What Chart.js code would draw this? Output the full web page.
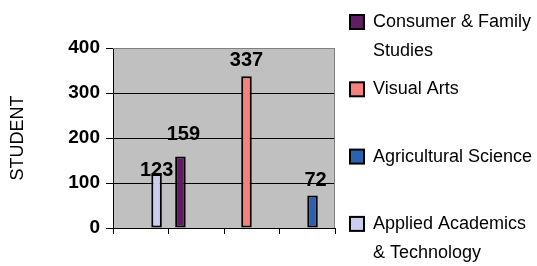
<!DOCTYPE html>
<html>
<head>
<meta charset="utf-8">
<script src="https://cdn.jsdelivr.net/npm/chart.js@4.4.1/dist/chart.umd.min.js"></script>
<style>
  html, body { margin: 0; padding: 0; background: #fff; }
  #wrap { width: 537px; height: 266px; position: relative; }
</style>
</head>
<body>
<div id="wrap"><canvas id="chart"></canvas></div>
<script>
// categories have no visible labels in the original
const categories = ['', '', '', ''];

const seriesNames = [
    ['Consumer & Family', 'Studies'],
    ['Visual Arts'],
    ['Agricultural Science'],
    ['Applied Academics', '& Technology']
];
const consumerValues = [null, 159, null, null];
const visualArtsValues = [null, null, 337, null];
const agricultureValues = [null, null, null, 72];
const appliedValues = [123, null, null, null];

const yTicks = [0, 100, 200, 300, 400];
const yTitle = 'STUDENT';

const seriesColors = ['#5e1e60', '#f58080', '#2a62b0', '#ccccee'];
// label offsets above bar top (labels were hand-placed in the source)
const labelLift = [22, 16, 15, 2];
const labelShift = [3, 0, 3, 0];

const FONT = "'Liberation Sans', Arial, sans-serif";

const bgPlugin = {
    id: 'plotBg',
    beforeDraw(chart) {
        const { ctx, chartArea: a } = chart;
        ctx.save();
        ctx.fillStyle = '#c0c0c0';
        ctx.fillRect(a.left, a.top, a.right - a.left, a.bottom - a.top);
        ctx.restore();
    },
    afterDraw(chart) {
        const { ctx, chartArea: a } = chart;
        ctx.save();
        ctx.strokeStyle = '#808080';
        ctx.lineWidth = 1;
        ctx.beginPath();
        ctx.moveTo(a.left, a.top + 0.5);
        ctx.lineTo(a.right - 0.5, a.top + 0.5);
        ctx.lineTo(a.right - 0.5, a.bottom);
        ctx.stroke();
        ctx.restore();
    }
};

const valueLabels = {
    id: 'valueLabels',
    afterDatasetsDraw(chart) {
        const ctx = chart.ctx;
        ctx.save();
        ctx.font = 'bold 20px ' + FONT;
        ctx.fillStyle = '#000';
        ctx.textAlign = 'center';
        ctx.textBaseline = 'middle';
        chart.data.datasets.forEach((ds, i) => {
            const meta = chart.getDatasetMeta(i);
            meta.data.forEach((bar, j) => {
                const v = ds.data[j];
                if (v === null || v === undefined) return;
                ctx.fillText(String(v), bar.x + labelShift[i], bar.y - labelLift[i]);
            });
        });
        ctx.restore();
    }
};

const sideLegend = {
    id: 'sideLegend',
    afterDraw(chart) {
        const ctx = chart.ctx;
        const x0 = 350, firstY = 22, step = 67.3, lineGap = 29;
        ctx.save();
        ctx.font = '18px ' + FONT;
        ctx.textBaseline = 'middle';
        ctx.textAlign = 'left';
        chart.data.datasets.forEach((ds, i) => {
            const y = firstY + i * step;
            ctx.fillStyle = ds.backgroundColor;
            ctx.fillRect(x0, y - 7, 14, 14);
            ctx.strokeStyle = '#000';
            ctx.lineWidth = 2;
            ctx.strokeRect(x0, y - 7, 14, 14);
            ctx.fillStyle = '#000';
            ds.lines.forEach((line, k) => {
                ctx.fillText(line, 373, y + k * lineGap);
            });
        });
        ctx.restore();
    }
};

const allValues = [consumerValues, visualArtsValues, agricultureValues, appliedValues];

new Chart(document.getElementById('chart'), {
    type: 'bar',
    data: {
        labels: categories,
        datasets: allValues.map((vals, i) => ({
            label: seriesNames[i].join(' '),
            lines: seriesNames[i],
            data: vals,
            backgroundColor: seriesColors[i],
            borderColor: '#000',
            borderWidth: 2,
            borderSkipped: false,
            barPercentage: 1.0,
            categoryPercentage: 0.76
        }))
    },
    options: {
        responsive: true,
        maintainAspectRatio: false,
        animation: false,
        layout: { padding: { top: 48, right: 202, left: 0, bottom: 0 } },
        plugins: {
            legend: { display: false },
            tooltip: { enabled: false }
        },
        scales: {
            x: {
                offset: true,
                afterFit(scale) { scale.height = 38; },
                grid: {
                    offset: true,
                    drawOnChartArea: false,
                    drawTicks: true,
                    tickLength: 6,
                    tickColor: '#000',
                    tickWidth: 1
                },
                border: { color: '#000', width: 1 },
                ticks: { display: true, font: { size: 1 } }
            },
            y: {
                min: 0,
                max: 400,
                afterFit(scale) { scale.width = 113; },
                afterBuildTicks(scale) { scale.ticks = yTicks.map(v => ({ value: v })); },
                title: {
                    display: true,
                    text: yTitle,
                    color: '#000',
                    font: { family: FONT, size: 18 },
                    padding: { top: 7, bottom: 0 }
                },
                grid: {
                    color: ctx => (ctx.tick && ctx.tick.value === 400 ? '#808080' : '#000'),
                    lineWidth: 1,
                    tickLength: 7,
                    tickColor: '#000'
                },
                border: { color: '#000', width: 1 },
                ticks: {
                    color: '#000',
                    padding: 6,
                    font: { family: FONT, size: 19, weight: 'bold' }
                }
            }
        }
    },
    plugins: [bgPlugin, valueLabels, sideLegend]
});
</script>
</body>
</html>
